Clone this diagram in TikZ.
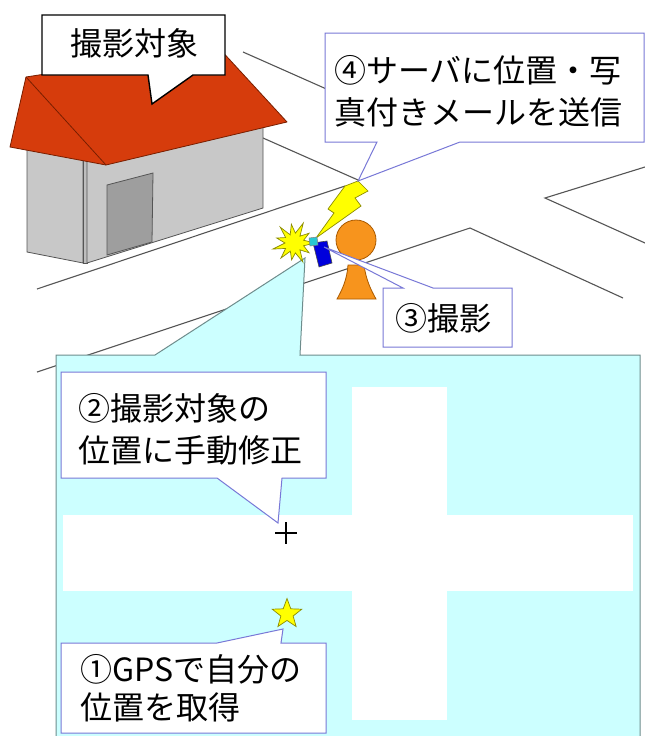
\documentclass[tikz,border=0pt]{standalone}
\usepackage{fontspec}
\newfontfamily\jp{Noto Sans CJK JP}
\usetikzlibrary{shapes.geometric}

\definecolor{roof}{RGB}{214,60,12}
\definecolor{roofline}{RGB}{120,30,0}
\definecolor{wall}{RGB}{200,200,200}
\definecolor{wallside}{RGB}{190,190,190}
\definecolor{door}{RGB}{158,158,158}
\definecolor{road}{RGB}{85,85,85}
\definecolor{area}{RGB}{204,255,255}
\definecolor{areaedge}{RGB}{110,140,140}
\definecolor{callout}{RGB}{120,120,215}
\definecolor{body}{RGB}{247,148,29}
\definecolor{bodyedge}{RGB}{170,90,0}
\definecolor{phone}{RGB}{0,0,220}
\definecolor{lens}{RGB}{40,200,210}
\definecolor{spark}{RGB}{255,255,0}
\definecolor{sparkedge}{RGB}{140,140,0}

\tikzset{
  roadline/.style={draw=road, line width=1.1pt},
  bubble/.style={fill=white, draw=callout, line width=1pt, line join=miter},
  blackbubble/.style={fill=white, draw=black, line width=1.4pt, line join=miter},
  txt/.style={font=\jp\fontsize{32}{42}\selectfont, inner sep=0pt, anchor=base west},
  wallface/.style={fill=wall, draw=road, line width=0.8pt},
}

\begin{document}
\begin{tikzpicture}[x=1pt,y=-1pt]
\useasboundingbox (0,0) rectangle (645,736);
\fill[white] (0,0) rectangle (645,736);

% street edges
\draw[roadline] (243,52) -- (340,95);
\draw[roadline] (263,138) -- (358,180);
\draw[roadline] (37,289) -- (345,186);
\draw[roadline] (37,372) -- (470,228) -- (623,298);
\draw[roadline] (645,167) -- (545,198) -- (645,243);

% field of view and the map area
\draw[fill=area, draw=areaedge, line width=1pt]
  (56,740) -- (56,355) -- (155,355) -- (305,258) -- (300,355) -- (640,355) -- (640,740);
\fill[white] (352,387) rectangle (447,720);
\fill[white] (63,515) rectangle (633,591);

% house walls
\draw[wallface] (27,145) -- (83,155) -- (83,263) -- (27,252) -- cycle;
\draw[fill=wallside, draw=road, line width=0.8pt] (83,155) -- (87,155) -- (87,263) -- (83,263) -- cycle;
\draw[wallface] (87,160) -- (263,120) -- (263,208) -- (87,263) -- cycle;
\draw[fill=door, draw=road, line width=0.8pt] (107,185) -- (153,173) -- (152,242) -- (107,255) -- cycle;

% roof
\draw[fill=roof, draw=roofline, line width=0.8pt, line join=round]
  (10,147) -- (26,77) -- (218,47) -- (287,122) -- (106,165) -- cycle;
\draw[roofline, line width=0.8pt] (26,77) -- (106,165);

% callout of the subject
\coordinate (tip0) at (152,104);
\draw[blackbubble] (42,15) -- (225,15) -- (225,75) -- (193,75) -- (tip0) -- (148,75) -- (42,75) -- cycle;
\node[txt] (t0) at (70,55) {撮影対象};

% photographer
\draw[fill=body, draw=bodyedge, line width=0.8pt]
  (348,265) -- (364,265) .. controls (366,280) and (371,290) .. (376,299)
  -- (337,299) .. controls (342,290) and (347,280) .. cycle;
\draw[fill=body, draw=bodyedge, line width=0.8pt] (356,240) circle[radius=20];

% camera flash
\begin{scope}[shift={(294,243)}]
\draw[fill=spark, draw=sparkedge, line width=0.7pt, line join=miter]
  (0:21) -- (16:10) -- (33:18) -- (49:9) -- (65:21) -- (82:10) -- (98:17) -- (114:9)
  -- (131:20) -- (147:10) -- (164:22) -- (180:9) -- (196:18) -- (213:10) -- (229:21)
  -- (245:9) -- (262:19) -- (278:10) -- (295:22) -- (311:9) -- (327:18) -- (344:10) -- cycle;
\end{scope}

% transmission bolt
\coordinate (bolt) at (358,181);
\draw[fill=spark, draw=sparkedge, line width=0.7pt, line join=miter]
  (345,186) -- (bolt) -- (368,191) -- (355,198) -- (361,206) -- (316,238)
  -- (334,213) -- (328,209) -- cycle;

% phone
\draw[fill=phone, draw=black!70, line width=0.6pt] (313,243) -- (327,241) -- (332,263) -- (319,267) -- cycle;
\draw[fill=lens, draw=black!50, line width=0.5pt] (309,238) -- (317,237) -- (318,245) -- (310,246) -- cycle;
\coordinate (cam) at (324,247);

% markers on the map
\coordinate (fix) at (286,533);
\draw[line width=1.8pt] (fix) ++(-11,0) -- ++(22,0) (fix) ++(0,-11) -- ++(0,22);
\node[star, star points=5, star point ratio=2.4, minimum size=31pt, inner sep=0pt,
      fill=spark, draw=sparkedge, line width=0.7pt] (gps) at (287,614) {};

% step callouts
\coordinate (tip2) at (278,523);
\draw[bubble] (61,372) -- (326,372) -- (326,478) -- (282,478) -- (tip2) -- (217,478) -- (61,478) -- cycle;
\node[txt] (t2a) at (78,420) {②撮影対象の};
\node[txt] (t2b) at (78,462) {位置に手動修正};

\coordinate (tip1) at (283,629);
\draw[bubble] (61,643) -- (217,643) -- (tip1) -- (281,643) -- (326,643) -- (326,733) -- (61,733) -- cycle;
\node[txt] (t1a) at (80,681) {①GPSで自分の};
\node[txt] (t1b) at (80,719) {位置を取得};

\draw[bubble] (383,288) -- (403,288) -- (cam) -- (433,288) -- (512,288) -- (512,347) -- (383,347) -- cycle;
\node[txt] (t3) at (395,330) {③撮影};

\draw[bubble] (325,33) -- (644,33) -- (644,142) -- (460,142) -- (bolt) -- (377,142) -- (325,142) -- cycle;
\node[txt] (t4a) at (334,82) {④サーバに位置・写};
\node[txt] (t4b) at (334,124) {真付きメールを送信};
\end{tikzpicture}
\end{document}
